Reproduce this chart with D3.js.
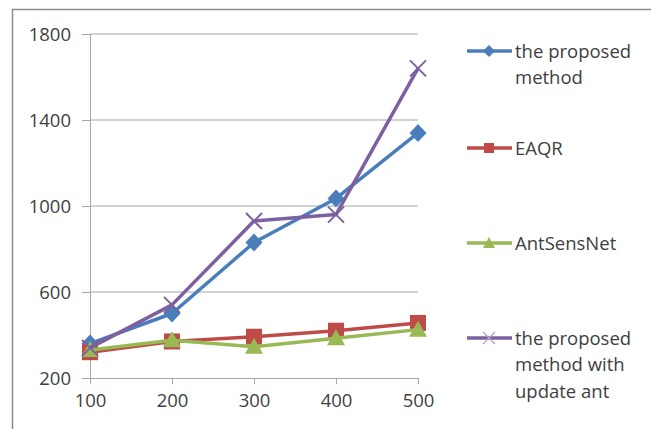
<!DOCTYPE html>
<html>
<head>
<meta charset="utf-8">
<script src="https://cdn.jsdelivr.net/npm/d3@7"></script>
<style>
  html, body { margin: 0; padding: 0; background: #fff; }
  svg { display: block; }
  text { font-family: "Open Sans", Lato, "Liberation Sans", sans-serif; fill: #404040; }
</style>
</head>
<body>
<svg id="chart" width="651" height="429"></svg>
<script>
// Node counts on the x axis
const categories = [100, 200, 300, 400, 500];
const yTicks = [200, 600, 1000, 1400, 1800];

// Series values
const proposed = [360, 500, 830, 1035, 1340];
const eaqr = [320, 370, 392, 420, 456];
const antSensNet = [330, 376, 345, 385, 425];
const proposedUpdate = [340, 540, 930, 960, 1640];

const seriesNames = ["the proposed method", "EAQR", "AntSensNet", "the proposed method with update ant"];
const legendLines = [["the proposed", "method"], ["EAQR"], ["AntSensNet"], ["the proposed", "method with", "update ant"]];
const seriesColors = ["#4A7EBB", "#BE4B48", "#98B954", "#7D60A0"];
const seriesMarkers = ["diamond", "square", "triangle", "x"];
const seriesValues = [proposed, eaqr, antSensNet, proposedUpdate];

const svg = d3.select("#chart");

// Chart frame
svg.append("path")
  .attr("d", "M12.5,429 L12.5,9.5 L651,9.5")
  .attr("fill", "none")
  .attr("stroke", "#8c8c8c")
  .attr("stroke-width", 1.5);

const x = d3.scaleLinear().domain([100, 500]).range([90, 418]);
const y = d3.scaleLinear().domain([200, 1800]).range([378, 34]);

// Horizontal gridlines
svg.append("g")
  .selectAll("line")
  .data(yTicks.slice(1))
  .join("line")
  .attr("x1", 90).attr("x2", 418)
  .attr("y1", d => y(d)).attr("y2", d => y(d))
  .attr("stroke", "#a6a6a6").attr("stroke-width", 1);

// Y axis
const yAxis = svg.append("g")
  .attr("transform", "translate(90,0)")
  .call(d3.axisLeft(y).tickValues(yTicks).tickSize(8).tickPadding(11).tickFormat(d3.format("d")));
yAxis.select(".domain").attr("stroke", "#a6a6a6");
yAxis.selectAll(".tick line").attr("stroke", "#a6a6a6");
yAxis.selectAll(".tick text").attr("font-size", 18.5).attr("fill", "#404040").attr("dy", "0.36em");

// X axis
const xAxis = svg.append("g")
  .attr("transform", "translate(0,378)")
  .call(d3.axisBottom(x).tickValues(categories).tickSize(6).tickPadding(10).tickFormat(d3.format("d")));
xAxis.select(".domain").attr("stroke", "#a6a6a6");
xAxis.selectAll(".tick line").attr("stroke", "#a6a6a6");
xAxis.selectAll(".tick text").attr("font-size", 18.5).attr("fill", "#404040");

// Marker drawing
function drawMarker(g, type, color, cx, cy) {
  if (type === "diamond") {
    g.append("path").attr("d", `M${cx},${cy - 9} L${cx + 8.5},${cy} L${cx},${cy + 9} L${cx - 8.5},${cy} Z`)
      .attr("fill", color);
  } else if (type === "square") {
    g.append("rect").attr("x", cx - 8).attr("y", cy - 8).attr("width", 16).attr("height", 16)
      .attr("fill", color);
  } else if (type === "triangle") {
    g.append("path").attr("d", `M${cx},${cy - 9} L${cx + 9},${cy + 7} L${cx - 9},${cy + 7} Z`)
      .attr("fill", color);
  } else {
    g.append("path").attr("d", `M${cx - 8},${cy - 8} L${cx + 8},${cy + 8} M${cx - 8},${cy + 8} L${cx + 8},${cy - 8}`)
      .attr("stroke", color).attr("stroke-width", 2).attr("fill", "none");
  }
}

const line = d3.line().x((d, i) => x(categories[i])).y(d => y(d));

// Series lines and markers
seriesValues.forEach((vals, s) => {
  const g = svg.append("g");
  g.append("path").datum(vals).attr("d", line)
    .attr("fill", "none").attr("stroke", seriesColors[s]).attr("stroke-width", 3.5)
    .attr("stroke-linejoin", "round");
  vals.forEach((v, i) => drawMarker(g, seriesMarkers[s], seriesColors[s], x(categories[i]), y(v)));
});

// Legend
const legendY = [51, 148, 243, 338];
legendLines.forEach((lines, s) => {
  const g = svg.append("g").attr("transform", `translate(0,${legendY[s]})`);
  g.append("line").attr("x1", 467).attr("x2", 512).attr("y1", 0).attr("y2", 0)
    .attr("stroke", seriesColors[s]).attr("stroke-width", 3.5);
  if (seriesMarkers[s] === "x") {
    g.append("path").attr("d", "M483,-6 L495,6 M483,6 L495,-6")
      .attr("stroke", "#b3a2c7").attr("stroke-width", 1.3).attr("fill", "none");
  } else if (seriesMarkers[s] === "diamond") {
    g.append("path").attr("d", "M489,-6 L495,0 L489,6 L483,0 Z").attr("fill", seriesColors[s]);
  } else if (seriesMarkers[s] === "square") {
    g.append("rect").attr("x", 484).attr("y", -5).attr("width", 10).attr("height", 10).attr("fill", seriesColors[s]);
  } else {
    g.append("path").attr("d", "M489,-6 L495,5 L483,5 Z").attr("fill", seriesColors[s]);
  }
  const t = g.append("text").attr("x", 515).attr("y", 0).attr("font-size", 18.5).attr("fill", "#404040");
  lines.forEach((ln, k) => {
    t.append("tspan").attr("x", 515).attr("y", k * 26.5).attr("dy", "0.36em").text(ln);
  });
});
</script>
</body>
</html>
